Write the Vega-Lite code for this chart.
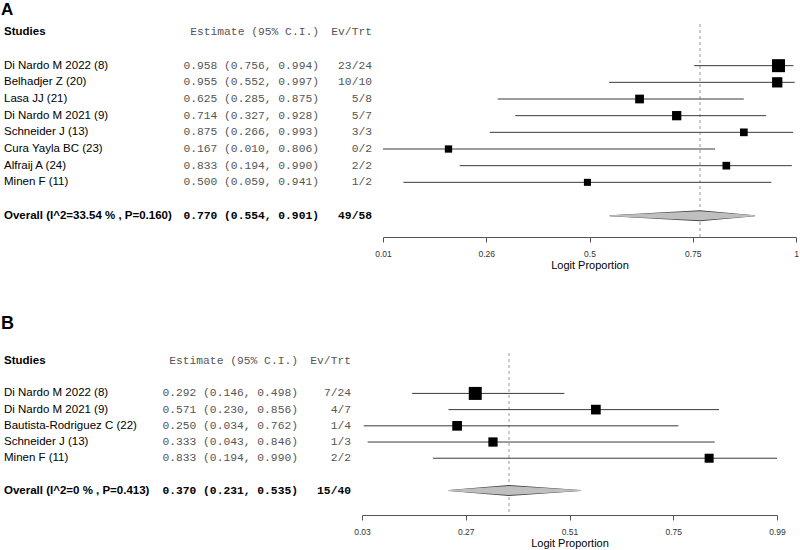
{
  "$schema": "https://vega.github.io/schema/vega-lite/v6.json",
  "background": "white",
  "padding": {"left": 1, "top": 0, "right": 0, "bottom": 0},
  "config": {"view": {"stroke": null}, "font": "Liberation Sans"},
  "datasets": {
    "a": [
      {"study": "Di Nardo M 2022 (8)", "kind": "study", "est": 0.958, "lo": 0.756, "hi": 0.994, "ev": 23, "n": 24, "weight": 25.7},
      {"study": "Belhadjer Z (20)", "kind": "study", "est": 0.955, "lo": 0.552, "hi": 0.997, "ev": 10, "n": 10, "weight": 16.1},
      {"study": "Lasa JJ (21)", "kind": "study", "est": 0.625, "lo": 0.285, "hi": 0.875, "ev": 5, "n": 8, "weight": 11.6},
      {"study": "Di Nardo M 2021 (9)", "kind": "study", "est": 0.714, "lo": 0.327, "hi": 0.928, "ev": 5, "n": 7, "weight": 13.1},
      {"study": "Schneider J (13)", "kind": "study", "est": 0.875, "lo": 0.266, "hi": 0.993, "ev": 3, "n": 3, "weight": 9.0},
      {"study": "Cura Yayla BC (23)", "kind": "study", "est": 0.167, "lo": 0.010, "hi": 0.806, "ev": 0, "n": 2, "weight": 8.1},
      {"study": "Alfraij A (24)", "kind": "study", "est": 0.833, "lo": 0.194, "hi": 0.990, "ev": 2, "n": 2, "weight": 9.0},
      {"study": "Minen F (11)", "kind": "study", "est": 0.500, "lo": 0.059, "hi": 0.941, "ev": 1, "n": 2, "weight": 7.5},
      {"study": "Overall (I^2=33.54 % , P=0.160)", "kind": "overall", "est": 0.770, "lo": 0.554, "hi": 0.901, "ev": 49, "n": 58}
    ],
    "b": [
      {"study": "Di Nardo M 2022 (8)", "kind": "study", "est": 0.292, "lo": 0.146, "hi": 0.498, "ev": 7, "n": 24, "weight": 32.3},
      {"study": "Di Nardo M 2021 (9)", "kind": "study", "est": 0.571, "lo": 0.230, "hi": 0.856, "ev": 4, "n": 7, "weight": 17.9},
      {"study": "Bautista-Rodriguez C (22)", "kind": "study", "est": 0.250, "lo": 0.034, "hi": 0.762, "ev": 1, "n": 4, "weight": 17.9},
      {"study": "Schneider J (13)", "kind": "study", "est": 0.333, "lo": 0.043, "hi": 0.846, "ev": 1, "n": 3, "weight": 16.4},
      {"study": "Minen F (11)", "kind": "study", "est": 0.833, "lo": 0.194, "hi": 0.990, "ev": 2, "n": 2, "weight": 15.5},
      {"study": "Overall (I^2=0 % , P=0.413)", "kind": "overall", "est": 0.370, "lo": 0.231, "hi": 0.535, "ev": 15, "n": 40}
    ]
  },
  "spacing": 43,
  "vconcat": [
    {
      "title": {"text": "A", "anchor": "start", "fontSize": 17, "fontWeight": "bold", "font": "Liberation Sans", "color": "black", "dx": -3, "offset": 5},
      "hconcat": [
        {
          "width": 168, "height": 213,
          "data": {"name": "a"},
          "layer": [
            {
              "transform": [{"filter": "datum.kind == 'study'"}],
              "mark": {"type": "text", "align": "left", "baseline": "middle", "fontSize": 11.5, "font": "Liberation Sans", "color": "black"},
              "encoding": {
                "x": {"datum": 0, "type": "quantitative", "scale": {"domain": [0, 1]}, "axis": null},
                "y": {"field": "study", "type": "nominal", "axis": null, "scale": {"type": "point", "domain": ["Studies", "g1", "Di Nardo M 2022 (8)", "Belhadjer Z (20)", "Lasa JJ (21)", "Di Nardo M 2021 (9)", "Schneider J (13)", "Cura Yayla BC (23)", "Alfraij A (24)", "Minen F (11)", "g2", "Overall (I^2=33.54 % , P=0.160)"], "padding": 0.89, "align": 0.281}},
                "text": {"field": "study"}
              }
            },
            {
              "transform": [{"filter": "datum.kind == 'overall'"}],
              "mark": {"type": "text", "align": "left", "baseline": "middle", "fontSize": 11.5, "font": "Liberation Sans", "fontWeight": "bold", "color": "black"},
              "encoding": {
                "x": {"datum": 0, "type": "quantitative", "scale": {"domain": [0, 1]}, "axis": null},
                "y": {"field": "study", "type": "nominal", "axis": null},
                "text": {"field": "study"}
              }
            },
            {
              "data": {"values": [{"label": "Studies"}]},
              "mark": {"type": "text", "align": "left", "baseline": "middle", "fontSize": 11.5, "font": "Liberation Sans", "fontWeight": "bold", "color": "black"},
              "encoding": {
                "x": {"datum": 0, "type": "quantitative", "scale": {"domain": [0, 1]}, "axis": null},
                "y": {"field": "label", "type": "nominal", "axis": null},
                "text": {"field": "label"}
              }
            }
          ]
        },
        {
          "width": 136, "height": 213,
          "data": {"name": "a"},
          "transform": [{"calculate": "format(datum.est, '.3f') + ' (' + format(datum.lo, '.3f') + ', ' + format(datum.hi, '.3f') + ')'", "as": "ci"}],
          "layer": [
            {
              "transform": [{"filter": "datum.kind == 'study'"}],
              "mark": {"type": "text", "align": "right", "baseline": "middle", "fontSize": 11.3, "font": "Liberation Mono", "color": "#555555"},
              "encoding": {
                "x": {"datum": 1, "type": "quantitative", "scale": {"domain": [0, 1]}, "axis": null},
                "y": {"field": "study", "type": "nominal", "axis": null, "scale": {"type": "point", "domain": ["Studies", "g1", "Di Nardo M 2022 (8)", "Belhadjer Z (20)", "Lasa JJ (21)", "Di Nardo M 2021 (9)", "Schneider J (13)", "Cura Yayla BC (23)", "Alfraij A (24)", "Minen F (11)", "g2", "Overall (I^2=33.54 % , P=0.160)"], "padding": 0.89, "align": 0.281}},
                "text": {"field": "ci"}
              }
            },
            {
              "transform": [{"filter": "datum.kind == 'overall'"}],
              "mark": {"type": "text", "align": "right", "baseline": "middle", "fontSize": 11.3, "font": "Liberation Mono", "fontWeight": "bold", "color": "black"},
              "encoding": {
                "x": {"datum": 1, "type": "quantitative", "scale": {"domain": [0, 1]}, "axis": null},
                "y": {"field": "study", "type": "nominal", "axis": null},
                "text": {"field": "ci"}
              }
            },
            {
              "data": {"values": [{"key": "Studies", "label": "Estimate (95% C.I.)"}]},
              "mark": {"type": "text", "align": "right", "baseline": "middle", "fontSize": 11.3, "font": "Liberation Mono", "color": "#555555"},
              "encoding": {
                "x": {"datum": 1, "type": "quantitative", "scale": {"domain": [0, 1]}, "axis": null},
                "y": {"field": "key", "type": "nominal", "axis": null},
                "text": {"field": "label"}
              }
            }
          ]
        },
        {
          "width": 42, "height": 213,
          "data": {"name": "a"},
          "transform": [{"calculate": "datum.ev + '/' + datum.n", "as": "evtrt"}],
          "layer": [
            {
              "transform": [{"filter": "datum.kind == 'study'"}],
              "mark": {"type": "text", "align": "right", "baseline": "middle", "fontSize": 11.3, "font": "Liberation Mono", "color": "#555555"},
              "encoding": {
                "x": {"datum": 1, "type": "quantitative", "scale": {"domain": [0, 1]}, "axis": null},
                "y": {"field": "study", "type": "nominal", "axis": null, "scale": {"type": "point", "domain": ["Studies", "g1", "Di Nardo M 2022 (8)", "Belhadjer Z (20)", "Lasa JJ (21)", "Di Nardo M 2021 (9)", "Schneider J (13)", "Cura Yayla BC (23)", "Alfraij A (24)", "Minen F (11)", "g2", "Overall (I^2=33.54 % , P=0.160)"], "padding": 0.89, "align": 0.281}},
                "text": {"field": "evtrt"}
              }
            },
            {
              "transform": [{"filter": "datum.kind == 'overall'"}],
              "mark": {"type": "text", "align": "right", "baseline": "middle", "fontSize": 11.3, "font": "Liberation Mono", "fontWeight": "bold", "color": "black"},
              "encoding": {
                "x": {"datum": 1, "type": "quantitative", "scale": {"domain": [0, 1]}, "axis": null},
                "y": {"field": "study", "type": "nominal", "axis": null},
                "text": {"field": "evtrt"}
              }
            },
            {
              "data": {"values": [{"key": "Studies", "label": "Ev/Trt"}]},
              "mark": {"type": "text", "align": "right", "baseline": "middle", "fontSize": 11.3, "font": "Liberation Mono", "color": "#555555"},
              "encoding": {
                "x": {"datum": 1, "type": "quantitative", "scale": {"domain": [0, 1]}, "axis": null},
                "y": {"field": "key", "type": "nominal", "axis": null},
                "text": {"field": "label"}
              }
            }
          ]
        },
        {
          "width": 413, "height": 213,
          "data": {"name": "a"},
          "resolve": {"scale": {"size": "independent"}},
          "layer": [
            {
              "transform": [{"filter": "datum.kind == 'overall'"}],
              "mark": {"type": "rule", "color": "#999999", "strokeWidth": 1, "strokeDash": [3, 3]},
              "encoding": {
                "x": {"field": "est", "type": "quantitative", "scale": {"domain": [0.01, 1], "nice": false, "zero": false},
                  "axis": {"title": "Logit Proportion", "values": [0.01, 0.2575, 0.505, 0.7525, 1], "labelExpr": "['0.01','0.26','0.5','0.75','1'][indexof([0.01,0.2575,0.505,0.7525,1], datum.value)]", "grid": false, "domainColor": "#555555", "tickColor": "#555555", "tickSize": 5, "labelFontSize": 8.5, "labelColor": "#333333", "labelFont": "Liberation Sans", "labelPadding": 7, "labelFlush": false, "titleFont": "Liberation Sans", "titleFontSize": 11, "titleFontWeight": "normal", "titleColor": "black", "titlePadding": 2}}
              }
            },
            {
              "transform": [{"filter": "datum.kind == 'study'"}],
              "mark": {"type": "rule", "color": "#3a3a3a", "strokeWidth": 1},
              "encoding": {
                "x": {"field": "lo", "type": "quantitative"},
                "x2": {"field": "hi"},
                "y": {"field": "study", "type": "nominal", "axis": null, "scale": {"type": "point", "domain": ["Studies", "g1", "Di Nardo M 2022 (8)", "Belhadjer Z (20)", "Lasa JJ (21)", "Di Nardo M 2021 (9)", "Schneider J (13)", "Cura Yayla BC (23)", "Alfraij A (24)", "Minen F (11)", "g2", "Overall (I^2=33.54 % , P=0.160)"], "padding": 0.89, "align": 0.281}}
              }
            },
            {
              "transform": [{"filter": "datum.kind == 'study'"}],
              "mark": {"type": "point", "shape": "square", "filled": true, "color": "black", "opacity": 1},
              "encoding": {
                "x": {"field": "est", "type": "quantitative"},
                "y": {"field": "study", "type": "nominal", "axis": null},
                "size": {"field": "weight", "type": "quantitative", "scale": {"domain": [0, 25.7], "range": [0, 169], "zero": true}, "legend": null}
              }
            },
            {
              "transform": [{"filter": "datum.kind == 'overall'"}, {"fold": ["lo", "est", "hi"], "as": ["part", "value"]}],
              "mark": {"type": "trail", "color": "#444444"},
              "encoding": {
                "x": {"field": "value", "type": "quantitative"},
                "y": {"field": "study", "type": "nominal", "axis": null},
                "size": {"field": "part", "type": "nominal", "scale": {"type": "ordinal", "domain": ["lo", "est", "hi"], "range": [0, 11, 0]}, "legend": null}
              }
            },
            {
              "transform": [{"filter": "datum.kind == 'overall'"}, {"fold": ["lo", "est", "hi"], "as": ["part", "value"]}],
              "mark": {"type": "trail", "color": "#bfbfbf"},
              "encoding": {
                "x": {"field": "value", "type": "quantitative"},
                "y": {"field": "study", "type": "nominal", "axis": null},
                "size": {"field": "part", "type": "nominal", "scale": {"type": "ordinal", "domain": ["lo", "est", "hi"], "range": [0, 9, 0]}, "legend": null}
              }
            }
          ]
        }
      ],
      "spacing": 11,
      "bounds": "flush"
    },
    {
      "title": {"text": "B", "anchor": "start", "fontSize": 18, "fontWeight": "bold", "font": "Liberation Sans", "color": "black", "dx": -3, "offset": 20},
      "hconcat": [
        {
          "width": 147, "height": 162,
          "data": {"name": "b"},
          "layer": [
            {
              "transform": [{"filter": "datum.kind == 'study'"}],
              "mark": {"type": "text", "align": "left", "baseline": "middle", "fontSize": 11.5, "font": "Liberation Sans", "color": "black"},
              "encoding": {
                "x": {"datum": 0, "type": "quantitative", "scale": {"domain": [0, 1]}, "axis": null},
                "y": {"field": "study", "type": "nominal", "axis": null, "scale": {"type": "point", "domain": ["Studies", "g1", "Di Nardo M 2022 (8)", "Di Nardo M 2021 (9)", "Bautista-Rodriguez C (22)", "Schneider J (13)", "Minen F (11)", "g2", "Overall (I^2=0 % , P=0.413)"], "padding": 1.01, "align": 0.2475}},
                "text": {"field": "study"}
              }
            },
            {
              "transform": [{"filter": "datum.kind == 'overall'"}],
              "mark": {"type": "text", "align": "left", "baseline": "middle", "fontSize": 11.5, "font": "Liberation Sans", "fontWeight": "bold", "color": "black"},
              "encoding": {
                "x": {"datum": 0, "type": "quantitative", "scale": {"domain": [0, 1]}, "axis": null},
                "y": {"field": "study", "type": "nominal", "axis": null},
                "text": {"field": "study"}
              }
            },
            {
              "data": {"values": [{"label": "Studies"}]},
              "mark": {"type": "text", "align": "left", "baseline": "middle", "fontSize": 11.5, "font": "Liberation Sans", "fontWeight": "bold", "color": "black"},
              "encoding": {
                "x": {"datum": 0, "type": "quantitative", "scale": {"domain": [0, 1]}, "axis": null},
                "y": {"field": "label", "type": "nominal", "axis": null},
                "text": {"field": "label"}
              }
            }
          ]
        },
        {
          "width": 136, "height": 162,
          "data": {"name": "b"},
          "transform": [{"calculate": "format(datum.est, '.3f') + ' (' + format(datum.lo, '.3f') + ', ' + format(datum.hi, '.3f') + ')'", "as": "ci"}],
          "layer": [
            {
              "transform": [{"filter": "datum.kind == 'study'"}],
              "mark": {"type": "text", "align": "right", "baseline": "middle", "fontSize": 11.3, "font": "Liberation Mono", "color": "#555555"},
              "encoding": {
                "x": {"datum": 1, "type": "quantitative", "scale": {"domain": [0, 1]}, "axis": null},
                "y": {"field": "study", "type": "nominal", "axis": null, "scale": {"type": "point", "domain": ["Studies", "g1", "Di Nardo M 2022 (8)", "Di Nardo M 2021 (9)", "Bautista-Rodriguez C (22)", "Schneider J (13)", "Minen F (11)", "g2", "Overall (I^2=0 % , P=0.413)"], "padding": 1.01, "align": 0.2475}},
                "text": {"field": "ci"}
              }
            },
            {
              "transform": [{"filter": "datum.kind == 'overall'"}],
              "mark": {"type": "text", "align": "right", "baseline": "middle", "fontSize": 11.3, "font": "Liberation Mono", "fontWeight": "bold", "color": "black"},
              "encoding": {
                "x": {"datum": 1, "type": "quantitative", "scale": {"domain": [0, 1]}, "axis": null},
                "y": {"field": "study", "type": "nominal", "axis": null},
                "text": {"field": "ci"}
              }
            },
            {
              "data": {"values": [{"key": "Studies", "label": "Estimate (95% C.I.)"}]},
              "mark": {"type": "text", "align": "right", "baseline": "middle", "fontSize": 11.3, "font": "Liberation Mono", "color": "#555555"},
              "encoding": {
                "x": {"datum": 1, "type": "quantitative", "scale": {"domain": [0, 1]}, "axis": null},
                "y": {"field": "key", "type": "nominal", "axis": null},
                "text": {"field": "label"}
              }
            }
          ]
        },
        {
          "width": 42, "height": 162,
          "data": {"name": "b"},
          "transform": [{"calculate": "datum.ev + '/' + datum.n", "as": "evtrt"}],
          "layer": [
            {
              "transform": [{"filter": "datum.kind == 'study'"}],
              "mark": {"type": "text", "align": "right", "baseline": "middle", "fontSize": 11.3, "font": "Liberation Mono", "color": "#555555"},
              "encoding": {
                "x": {"datum": 1, "type": "quantitative", "scale": {"domain": [0, 1]}, "axis": null},
                "y": {"field": "study", "type": "nominal", "axis": null, "scale": {"type": "point", "domain": ["Studies", "g1", "Di Nardo M 2022 (8)", "Di Nardo M 2021 (9)", "Bautista-Rodriguez C (22)", "Schneider J (13)", "Minen F (11)", "g2", "Overall (I^2=0 % , P=0.413)"], "padding": 1.01, "align": 0.2475}},
                "text": {"field": "evtrt"}
              }
            },
            {
              "transform": [{"filter": "datum.kind == 'overall'"}],
              "mark": {"type": "text", "align": "right", "baseline": "middle", "fontSize": 11.3, "font": "Liberation Mono", "fontWeight": "bold", "color": "black"},
              "encoding": {
                "x": {"datum": 1, "type": "quantitative", "scale": {"domain": [0, 1]}, "axis": null},
                "y": {"field": "study", "type": "nominal", "axis": null},
                "text": {"field": "evtrt"}
              }
            },
            {
              "data": {"values": [{"key": "Studies", "label": "Ev/Trt"}]},
              "mark": {"type": "text", "align": "right", "baseline": "middle", "fontSize": 11.3, "font": "Liberation Mono", "color": "#555555"},
              "encoding": {
                "x": {"datum": 1, "type": "quantitative", "scale": {"domain": [0, 1]}, "axis": null},
                "y": {"field": "key", "type": "nominal", "axis": null},
                "text": {"field": "label"}
              }
            }
          ]
        },
        {
          "width": 415, "height": 162,
          "data": {"name": "b"},
          "resolve": {"scale": {"size": "independent"}},
          "layer": [
            {
              "transform": [{"filter": "datum.kind == 'overall'"}],
              "mark": {"type": "rule", "color": "#999999", "strokeWidth": 1, "strokeDash": [3, 3]},
              "encoding": {
                "x": {"field": "est", "type": "quantitative", "scale": {"domain": [0.03, 0.99], "nice": false, "zero": false},
                  "axis": {"title": "Logit Proportion", "values": [0.03, 0.27, 0.51, 0.75, 0.99], "format": ".2f", "grid": false, "domainColor": "#555555", "tickColor": "#555555", "tickSize": 5, "labelFontSize": 8.5, "labelColor": "#333333", "labelFont": "Liberation Sans", "labelPadding": 7, "labelFlush": false, "titleFont": "Liberation Sans", "titleFontSize": 11, "titleFontWeight": "normal", "titleColor": "black", "titlePadding": 2}}
              }
            },
            {
              "transform": [{"filter": "datum.kind == 'study'"}],
              "mark": {"type": "rule", "color": "#3a3a3a", "strokeWidth": 1},
              "encoding": {
                "x": {"field": "lo", "type": "quantitative"},
                "x2": {"field": "hi"},
                "y": {"field": "study", "type": "nominal", "axis": null, "scale": {"type": "point", "domain": ["Studies", "g1", "Di Nardo M 2022 (8)", "Di Nardo M 2021 (9)", "Bautista-Rodriguez C (22)", "Schneider J (13)", "Minen F (11)", "g2", "Overall (I^2=0 % , P=0.413)"], "padding": 1.01, "align": 0.2475}}
              }
            },
            {
              "transform": [{"filter": "datum.kind == 'study'"}],
              "mark": {"type": "point", "shape": "square", "filled": true, "color": "black", "opacity": 1},
              "encoding": {
                "x": {"field": "est", "type": "quantitative"},
                "y": {"field": "study", "type": "nominal", "axis": null},
                "size": {"field": "weight", "type": "quantitative", "scale": {"domain": [0, 32.3], "range": [0, 169], "zero": true}, "legend": null}
              }
            },
            {
              "transform": [{"filter": "datum.kind == 'overall'"}, {"fold": ["lo", "est", "hi"], "as": ["part", "value"]}],
              "mark": {"type": "trail", "color": "#444444"},
              "encoding": {
                "x": {"field": "value", "type": "quantitative"},
                "y": {"field": "study", "type": "nominal", "axis": null},
                "size": {"field": "part", "type": "nominal", "scale": {"type": "ordinal", "domain": ["lo", "est", "hi"], "range": [0, 11, 0]}, "legend": null}
              }
            },
            {
              "transform": [{"filter": "datum.kind == 'overall'"}, {"fold": ["lo", "est", "hi"], "as": ["part", "value"]}],
              "mark": {"type": "trail", "color": "#bfbfbf"},
              "encoding": {
                "x": {"field": "value", "type": "quantitative"},
                "y": {"field": "study", "type": "nominal", "axis": null},
                "size": {"field": "part", "type": "nominal", "scale": {"type": "ordinal", "domain": ["lo", "est", "hi"], "range": [0, 9, 0]}, "legend": null}
              }
            }
          ]
        }
      ],
      "spacing": 11,
      "bounds": "flush"
    }
  ]
}
